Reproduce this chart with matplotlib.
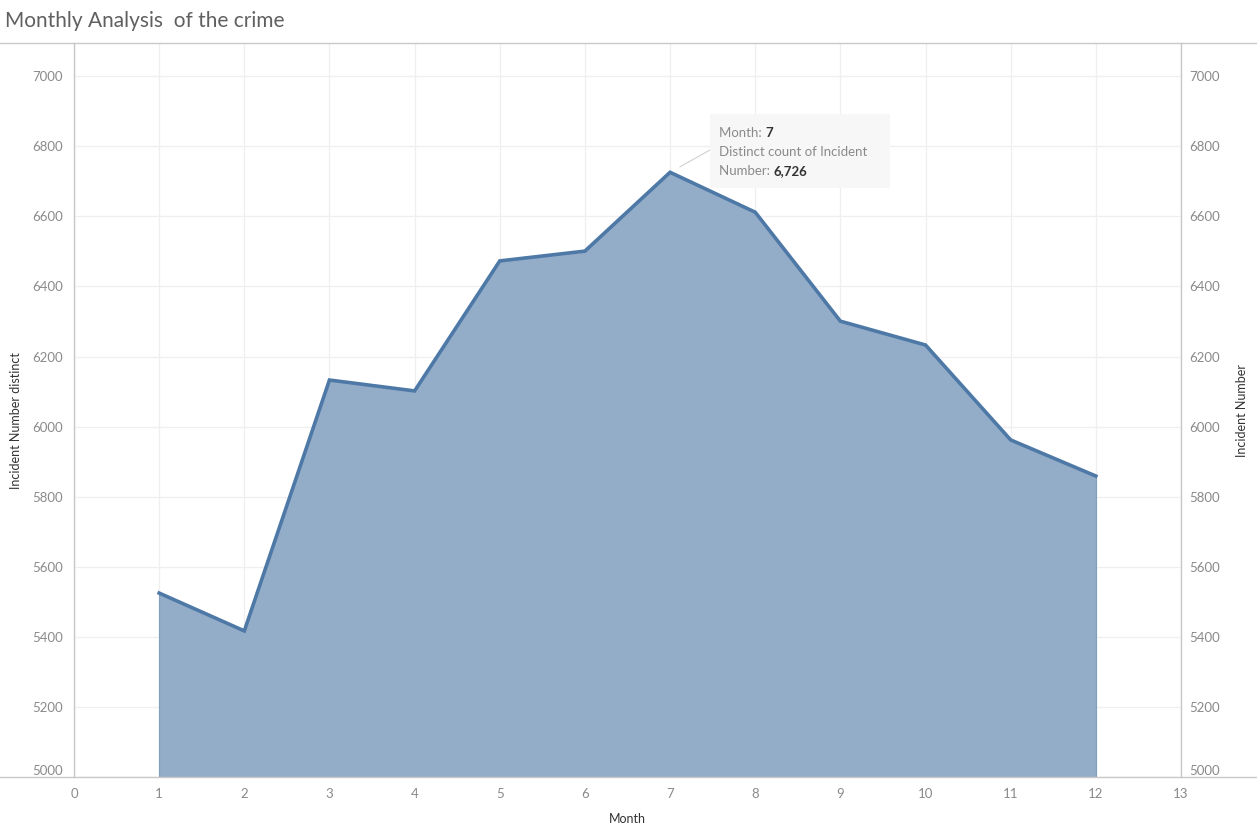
import matplotlib
matplotlib.use("Agg")
import matplotlib.pyplot as plt
from matplotlib.lines import Line2D
from matplotlib.patches import Rectangle

# values
months = [1, 2, 3, 4, 5, 6, 7, 8, 9, 10, 11, 12]
incidents = [5525, 5417, 6133, 6102, 6473, 6501, 6726, 6612, 6301, 6233, 5962, 5859]
y_ticks = [5000, 5200, 5400, 5600, 5800, 6000, 6200, 6400, 6600, 6800, 7000]
x_ticks = list(range(0, 14))
hover_month = 7

BLUE = "#4e79a7"
FILL = "#93adc9"
GREY = "#8a8a8a"
AXIS = "#c8c8c8"
GRID = "#efefef"

plt.rcParams["font.family"] = ["Lato", "DejaVu Sans"]

W, H = 1257, 835
fig = plt.figure(figsize=(W / 100, H / 100), dpi=100)
fig.patch.set_facecolor("white")

def fx(px):
    return px / W

def fy(py):
    return 1 - py / H

ax = fig.add_axes([fx(74), fy(777), fx(1181) - fx(74), fy(43) - fy(777)])
ax.fill_between(months, incidents, 4900, color=FILL, lw=0, zorder=2)
ax.plot(months, incidents, color=BLUE, lw=2.6, solid_joinstyle="miter", zorder=3)
ax.plot([months[0], months[0]], [4900, incidents[0]], color=BLUE, lw=0.8, alpha=0.6, zorder=3)
ax.plot([months[-1], months[-1]], [4900, incidents[-1]], color=BLUE, lw=0.8, alpha=0.6, zorder=3)

ax.set_xlim(0, 13)
ax.set_ylim(5000, 7095)
ax.set_xticks(x_ticks)
ax.set_yticks(y_ticks)
ax.grid(True, color=GRID, lw=0.9, zorder=0)
ax.set_axisbelow(True)
for s in ["top", "bottom"]:
    ax.spines[s].set_visible(False)
for s in ["left", "right"]:
    ax.spines[s].set_color(AXIS)
    ax.spines[s].set_linewidth(1.0)
ax.tick_params(axis="both", colors=GREY, labelsize=9.5, length=0, pad=8)
ax.set_xlabel("Month", fontsize=9, color="#333333", labelpad=9)
ax.set_ylabel("Incident Number distinct", fontsize=9, color="#333333")
ax.yaxis.set_label_coords(-0.047, 0.485)

# right-hand copy of the axis
ax2 = ax.twinx()
ax2.set_ylim(ax.get_ylim())
ax2.set_yticks(y_ticks)
ax2.tick_params(axis="y", colors=GREY, labelsize=9.5, length=0, pad=6)
for s in ax2.spines.values():
    s.set_visible(False)
ax2.set_ylabel("Incident Number", fontsize=9, color="#333333")
ax2.yaxis.set_label_coords(1.0497, 0.5)

for a in (ax, ax2):
    for lab in a.get_yticklabels():
        if lab.get_text() == "5000":
            lab.set_verticalalignment("bottom")

# frame lines across the whole width, like the dashboard
fig.add_artist(Line2D([0, 1], [fy(43), fy(43)], color=AXIS, lw=1.0))
fig.add_artist(Line2D([0, 1], [fy(777), fy(777)], color=AXIS, lw=1.0))

fig.text(fx(5), fy(21), "Monthly Analysis  of the crime", fontsize=15,
         color="#606060", va="center", ha="left")

# tooltip
hv = incidents[months.index(hover_month)]
fig.add_artist(Rectangle((fx(710), fy(188)), fx(890) - fx(710), fy(114) - fy(188),
                         facecolor="#f7f7f7", edgecolor="none", zorder=5))
ax.annotate("", xy=(hover_month, hv), xytext=(fx(710), fy(150)),
            textcoords="figure fraction",
            arrowprops=dict(arrowstyle="-", color="#d0d0d0", lw=0.8,
                            shrinkA=0, shrinkB=8), zorder=6)
renderer = fig.canvas.get_renderer()

def seg(x, y, s, color, weight="normal"):
    t = fig.text(fx(x), fy(y), s, fontsize=9.5, color=color, fontweight=weight,
                 va="center", ha="left", zorder=7)
    bb = t.get_window_extent(renderer)
    return bb.x1

x1 = seg(719, 133, "Month: ", GREY)
seg(x1, 133, str(hover_month), "#333333", "bold")
seg(719, 152, "Distinct count of Incident", GREY)
x1 = seg(719, 171, "Number: ", GREY)
seg(x1, 171, f"{hv:,}", "#333333", "bold")

fig.savefig("out.png", dpi=100, facecolor="white")
